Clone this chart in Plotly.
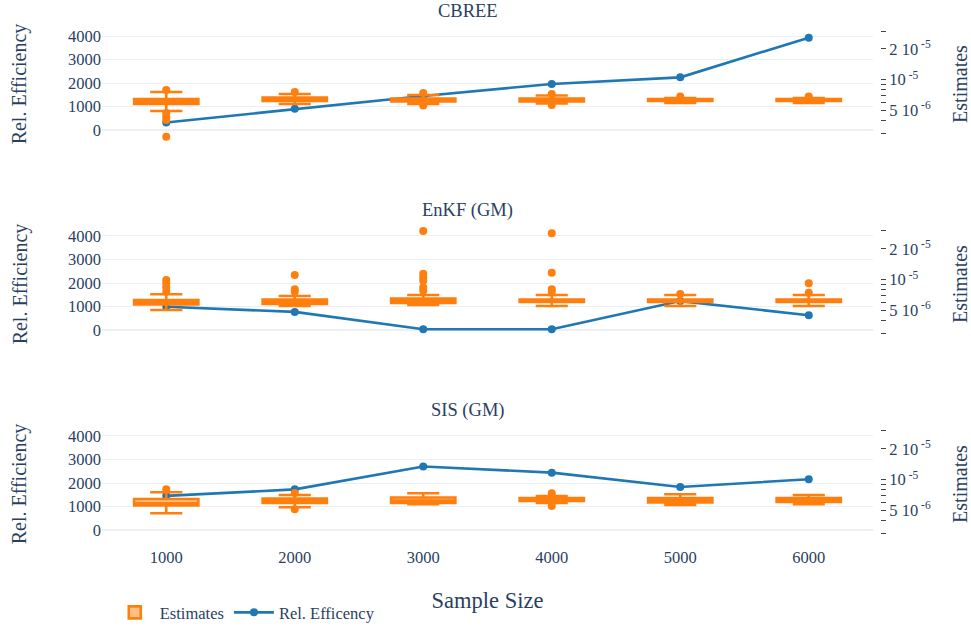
import plotly.graph_objects as go
from plotly.subplots import make_subplots

sample_sizes = [1000, 2000, 3000, 4000, 5000, 6000]
methods = ["CBREE", "EnKF (GM)", "SIS (GM)"]

# Relative efficiency (left axis)
releff_cbree = [320, 900, 1450, 1960, 2240, 3930]
releff_enkf = [990, 770, 30, 30, 1230, 630]
releff_sis = [1450, 1730, 2700, 2440, 1830, 2160]

# Estimates box statistics (right axis, log)
cbree_lf = [4.93e-6, 5.78e-6, 5.78e-6, 5.84e-6, 5.91e-6, 5.91e-6]
cbree_q1 = [5.78e-6, 6.18e-6, 6.11e-6, 6.11e-6, 6.18e-6, 6.18e-6]
cbree_med = [6.11e-6, 6.39e-6, 6.32e-6, 6.32e-6, 6.32e-6, 6.32e-6]
cbree_q3 = [6.46e-6, 6.69e-6, 6.54e-6, 6.54e-6, 6.46e-6, 6.46e-6]
cbree_uf = [7.57e-6, 7.24e-6, 7.07e-6, 6.99e-6, 6.61e-6, 6.61e-6]
cbree_out_x = [1000, 1000, 1000, 1000, 1000, 2000, 3000, 3000, 4000, 4000, 5000, 6000]
cbree_out_y = [7.92e-6, 4.71e-6, 4.31e-6, 4.02e-6, 2.76e-6, 7.57e-6, 7.40e-6, 5.58e-6,
               7.24e-6, 5.65e-6, 6.84e-6, 6.84e-6]

enkf_lf = [5.04e-6, 5.52e-6, 5.65e-6, 5.52e-6, 5.52e-6, 5.52e-6]
enkf_q1 = [5.71e-6, 5.78e-6, 5.91e-6, 6.04e-6, 6.04e-6, 6.04e-6]
enkf_med = [5.97e-6, 6.04e-6, 6.18e-6, 6.18e-6, 6.18e-6, 6.18e-6]
enkf_q3 = [6.32e-6, 6.39e-6, 6.54e-6, 6.39e-6, 6.39e-6, 6.39e-6]
enkf_uf = [7.19e-6, 6.92e-6, 7.07e-6, 7.07e-6, 7.07e-6, 7.07e-6]
enkf_out_x = [1000, 1000, 1000, 1000, 2000, 2000, 2000,
              3000, 3000, 3000, 3000, 3000, 3000,
              4000, 4000, 4000, 4000, 5000, 6000, 6000]
enkf_out_y = [9.93e-6, 9.22e-6, 8.42e-6, 7.63e-6, 1.11e-5, 8.05e-6, 7.63e-6,
              3.00e-5, 1.14e-5, 1.05e-5, 9.77e-6, 8.42e-6, 7.80e-6,
              2.85e-5, 1.17e-5, 8.05e-6, 7.63e-6, 7.24e-6, 9.22e-6, 7.45e-6]

sis_lf = [4.68e-6, 5.36e-6, 5.74e-6, 5.91e-6, 5.65e-6, 5.74e-6]
sis_q1 = [5.58e-6, 5.91e-6, 5.91e-6, 6.18e-6, 5.97e-6, 6.04e-6]
sis_med = [5.87e-6, 6.18e-6, 6.25e-6, 6.39e-6, 6.25e-6, 6.32e-6]
sis_q3 = [6.46e-6, 6.54e-6, 6.69e-6, 6.61e-6, 6.61e-6, 6.61e-6]
sis_uf = [7.52e-6, 7.07e-6, 7.35e-6, 6.92e-6, 7.19e-6, 7.07e-6]
sis_out_x = [1000, 2000, 2000, 4000, 4000]
sis_out_y = [8.05e-6, 7.40e-6, 5.12e-6, 7.35e-6, 5.52e-6]

left_ticks = [0, 1000, 2000, 3000, 4000]
right_tickvals = [3e-6, 4e-6, 5e-6, 6e-6, 7e-6, 8e-6, 9e-6, 1e-5, 2e-5, 3e-5]
right_ticktext = ["", "", "5 10<sup> -6</sup>", "", "", "", "", "10<sup> -5</sup>",
                  "2 10<sup> -5</sup>", ""]

ORANGE = "#ff7f0e"
BLUE = "#1f77b4"
FONT = "Liberation Serif"

panels = [
    (releff_cbree, cbree_lf, cbree_q1, cbree_med, cbree_q3, cbree_uf, cbree_out_x, cbree_out_y),
    (releff_enkf, enkf_lf, enkf_q1, enkf_med, enkf_q3, enkf_uf, enkf_out_x, enkf_out_y),
    (releff_sis, sis_lf, sis_q1, sis_med, sis_q3, sis_uf, sis_out_x, sis_out_y),
]

fig = make_subplots(rows=3, cols=1, shared_xaxes=True, vertical_spacing=0.1494,
                    specs=[[{"secondary_y": True}]] * 3, subplot_titles=methods)

for i, (reff, lf, q1, med, q3, uf, ox, oy) in enumerate(panels):
    row = i + 1
    first = i == 0
    fig.add_trace(go.Box(x=sample_sizes, lowerfence=lf, q1=q1, median=med, q3=q3,
                         upperfence=uf, width=500, name="Estimates", legendgroup="est",
                         showlegend=first, marker=dict(color=ORANGE),
                         line=dict(color=ORANGE, width=2.6)),
                  row=row, col=1, secondary_y=True)
    fig.add_trace(go.Scatter(x=ox, y=oy, mode="markers", legendgroup="est", showlegend=False,
                             marker=dict(color=ORANGE, size=8), name="Estimates"),
                  row=row, col=1, secondary_y=True)
    fig.add_trace(go.Scatter(x=sample_sizes, y=reff, mode="lines+markers", name="Rel. Efficency",
                             legendgroup="re", showlegend=first,
                             line=dict(color=BLUE, width=2.6), marker=dict(size=8, color=BLUE)),
                  row=row, col=1, secondary_y=False)

fig.update_layout(
    template="plotly_white",
    width=971, height=629,
    margin=dict(l=102, r=91, t=23, b=84, autoexpand=False),
    font_family=FONT, font_size=16.5, font_color="#2a3f5f",
    legend=dict(orientation="h", x=0.01, y=-0.096, xanchor="left", yanchor="top",
                itemwidth=40, font=dict(family=FONT, size=16.5)),
)
for a in fig.layout.annotations:
    a.font = dict(family=FONT, size=18.5, color="#2a3f5f")

fig.update_xaxes(range=[500, 6500], tickvals=sample_sizes, domain=[0, 0.991],
                 showgrid=False, zeroline=False, automargin=False,
                 tickfont=dict(family=FONT, size=16.5))
fig.update_xaxes(title_text="Sample Size", title_font=dict(family=FONT, size=22.5),
                 title_standoff=26, row=3, col=1)

fig.update_yaxes(range=[-638, 4553], tickvals=left_ticks, title_text="Rel. Efficiency",
                 title_font=dict(family=FONT, size=20), tickfont=dict(family=FONT, size=16.5),
                 title_standoff=35, automargin=False, secondary_y=False)
fig.update_yaxes(type="log", range=[-5.6405, -4.4445], tickvals=right_tickvals,
                 ticktext=right_ticktext, ticks="outside", ticklen=5, tickcolor="#444",
                 showgrid=False, zeroline=False, anchor="free", position=1,
                 automargin=False, title_standoff=25, tickfont=dict(family=FONT, size=16.5),
                 title_text="Estimates", title_font=dict(family=FONT, size=20), secondary_y=True)

fig.write_html("out.html", config={"displayModeBar": False},
               post_script="document.body.style.margin='0px';")
